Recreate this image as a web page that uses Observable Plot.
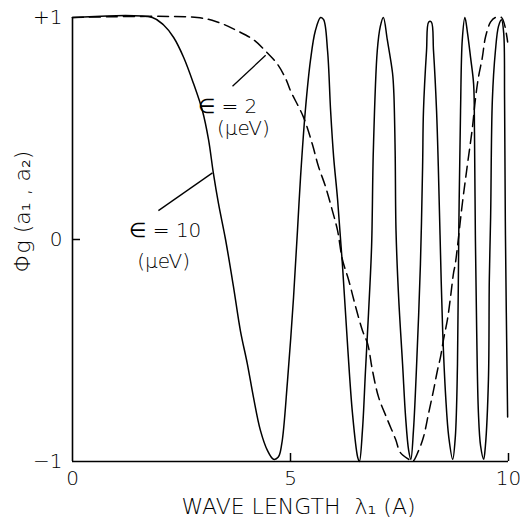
<!DOCTYPE html>
<html><head><meta charset="utf-8">
<script src="https://cdn.jsdelivr.net/npm/d3@7"></script>
<script src="https://cdn.jsdelivr.net/npm/@observablehq/plot@0.6"></script>
<style>
body{margin:0;background:#fff}
g[aria-label="xlabel"] text{letter-spacing:3.6px}
g[aria-label="ylabel"] text{letter-spacing:2.5px}
g[aria-label="notes"] text{letter-spacing:0.5px}
</style>
</head><body><div id="chart"></div>
<script>
// ε = 10 μeV (solid)
const solidX = [0,1.83,2.09,2.32,2.55,2.78,2.98,3.12,3.23,3.35,3.51,3.69,3.85,4.01,4.15,4.31,4.47,4.61,4.72,4.80,4.93,5.07,5.16,5.23,5.34,5.46,5.57,5.69,5.76,5.85,5.92,5.99,6.08,6.19,6.31,6.42,6.54,6.58,6.65,6.72,6.79,6.86,6.90,6.99,7.06,7.13,7.22,7.34,7.37,7.40,7.42,7.48,7.57,7.64,7.71,7.76,7.82,7.91,7.98,8.03,8.05,8.12,8.17,8.23,8.28,8.35,8.39,8.43,8.49,8.56,8.63,8.72,8.78,8.83,8.86,8.90,8.94,9.00,9.06,9.13,9.20,9.22,9.24,9.27,9.31,9.36,9.43,9.47,9.54,9.56,9.59,9.63,9.70,9.77,9.84,9.89,9.91,9.93,9.98];
const solidY = [1,1,0.966,0.91,0.82,0.70,0.58,0.45,0.30,0.16,0.0,-0.21,-0.41,-0.56,-0.71,-0.86,-0.95,-0.99,-0.98,-0.92,-0.64,-0.26,0.04,0.28,0.58,0.81,0.94,1.0,0.99,0.85,0.58,0.37,0.18,-0.11,-0.48,-0.78,-0.98,-1.0,-0.86,-0.59,-0.33,-0.03,0.40,0.85,0.96,1.0,0.90,0.75,0.66,0.40,0.04,-0.26,-0.56,-0.80,-0.95,-0.99,-0.86,-0.48,-0.11,0.33,0.58,0.85,0.98,0.98,0.85,0.58,0.33,0.02,-0.41,-0.71,-0.89,-0.99,-0.89,-0.56,0.04,0.58,0.90,1.0,0.93,0.82,0.70,0.48,0.02,-0.41,-0.78,-0.93,-0.99,-0.93,-0.63,-0.18,0.10,0.63,0.85,0.96,0.99,0.93,0.63,0.02,-0.80];
// ε = 2 μeV (dashed)
const dashX = [0,2.86,3.32,3.78,4.15,4.47,4.70,4.90,5.00,5.30,5.50,5.64,5.80,5.96,6.08,6.19,6.33,6.49,6.65,6.77,6.88,7.02,7.22,7.41,7.52,7.71,7.80,7.94,8.05,8.17,8.28,8.37,8.44,8.51,8.60,8.67,8.74,8.78,8.94,9.06,9.17,9.24,9.31,9.40,9.47,9.59,9.70,9.84,9.98];
const dashY = [1,1,0.98,0.94,0.90,0.84,0.79,0.72,0.67,0.55,0.43,0.33,0.24,0.13,0.04,-0.09,-0.18,-0.30,-0.41,-0.47,-0.59,-0.71,-0.81,-0.90,-0.96,-0.99,-1.0,-0.95,-0.89,-0.78,-0.68,-0.59,-0.53,-0.45,-0.36,-0.26,-0.15,-0.11,0.16,0.34,0.50,0.63,0.73,0.82,0.91,0.98,1.0,1.0,0.89];

const xTicks = [0, 5, 10];
const xTickLabels = ["0", "5", "10"];
const xTickMarks = [5, 10];
const yTicks = [1, 0, -1];
const yTickLabels = ["+1", "0", "−1"];
const yTickMarks = [0];
const xLabel = "WAVE LENGTH  λ₁ (A)";
const yLabel = "Φg (a₁ , a₂)";

const noteText = ["∈ = 2", "(μeV)", "∈ = 10", "(μeV)"];
const noteX = [3.56, 3.92, 2.13, 2.09];
const noteY = [0.60, 0.50, 0.04, -0.10];
const leaderX1 = [3.67, 1.97], leaderY1 = [0.69, 0.13];
const leaderX2 = [4.43, 3.21], leaderY2 = [0.83, 0.30];

const solid = solidX.map((x, i) => ({x, y: solidY[i]}));
const dashed = dashX.map((x, i) => ({x, y: dashY[i]}));
const notes = noteText.map((t, i) => ({t, x: noteX[i], y: noteY[i]}));
const leaders = leaderX1.map((x1, i) => ({x1, y1: leaderY1[i], x2: leaderX2[i], y2: leaderY2[i]}));

const font = "DejaVu Sans";
const fw = 200;
const chart = Plot.plot({
  width: 520, height: 526,
  marginLeft: 72, marginRight: 12, marginTop: 17, marginBottom: 65,
  style: {background: "#fff", color: "#000", fontFamily: font},
  x: {domain: [0, 10], axis: null},
  y: {domain: [-1, 1], axis: null},
  marks: [
    Plot.ruleX([0], {y1: -1, y2: 1, stroke: "#000", strokeWidth: 1.6}),
    Plot.ruleY([-1], {x1: 0, x2: 10, stroke: "#000", strokeWidth: 1.6}),
    Plot.ruleX(xTickMarks, {x: d => d, y1: -1, y2: -1, insetTop: -8, stroke: "#000", strokeWidth: 1.5}),
    Plot.ruleY(yTickMarks, {y: d => d, x1: 0, x2: 0, insetRight: -8, stroke: "#000", strokeWidth: 1.5}),
    Plot.axisX({ticks: xTicks, tickSize: 0, tickPadding: 9, tickFormat: (d) => xTickLabels[xTicks.indexOf(d)], fontSize: 20, fontFamily: font, fontWeight: fw, fill: "#000"}),
    Plot.axisY({ticks: yTicks, tickSize: 0, tickPadding: 10, tickFormat: (d) => yTickLabels[yTicks.indexOf(d)], fontSize: 20, fontFamily: font, fontWeight: fw, fill: "#000"}),
    Plot.line(dashed, {x: "x", y: "y", stroke: "#000", strokeWidth: 1.5, strokeDasharray: "11,6", curve: "catmull-rom"}),
    Plot.line(solid, {x: "x", y: "y", stroke: "#000", strokeWidth: 1.5, curve: "catmull-rom"}),
    Plot.link(leaders, {x1: "x1", y1: "y1", x2: "x2", y2: "y2", stroke: "#000", strokeWidth: 1.3}),
    Plot.text(notes, {x: "x", y: "y", text: "t", fontSize: 20, fontFamily: font, fontWeight: fw, fill: "#000", ariaLabel: "notes"}),
    Plot.text([xLabel], {frameAnchor: "bottom", dx: 8, dy: 52, fontSize: 22, fontFamily: font, fontWeight: fw, fill: "#000", ariaLabel: "xlabel"}),
    Plot.text([yLabel], {frameAnchor: "left", textAnchor: "middle", dx: -50, dy: -28, rotate: -90, fontSize: 22, fontFamily: font, fontWeight: fw, fill: "#000", ariaLabel: "ylabel"})
  ]
});
document.getElementById("chart").appendChild(chart);
</script>
</body></html>
